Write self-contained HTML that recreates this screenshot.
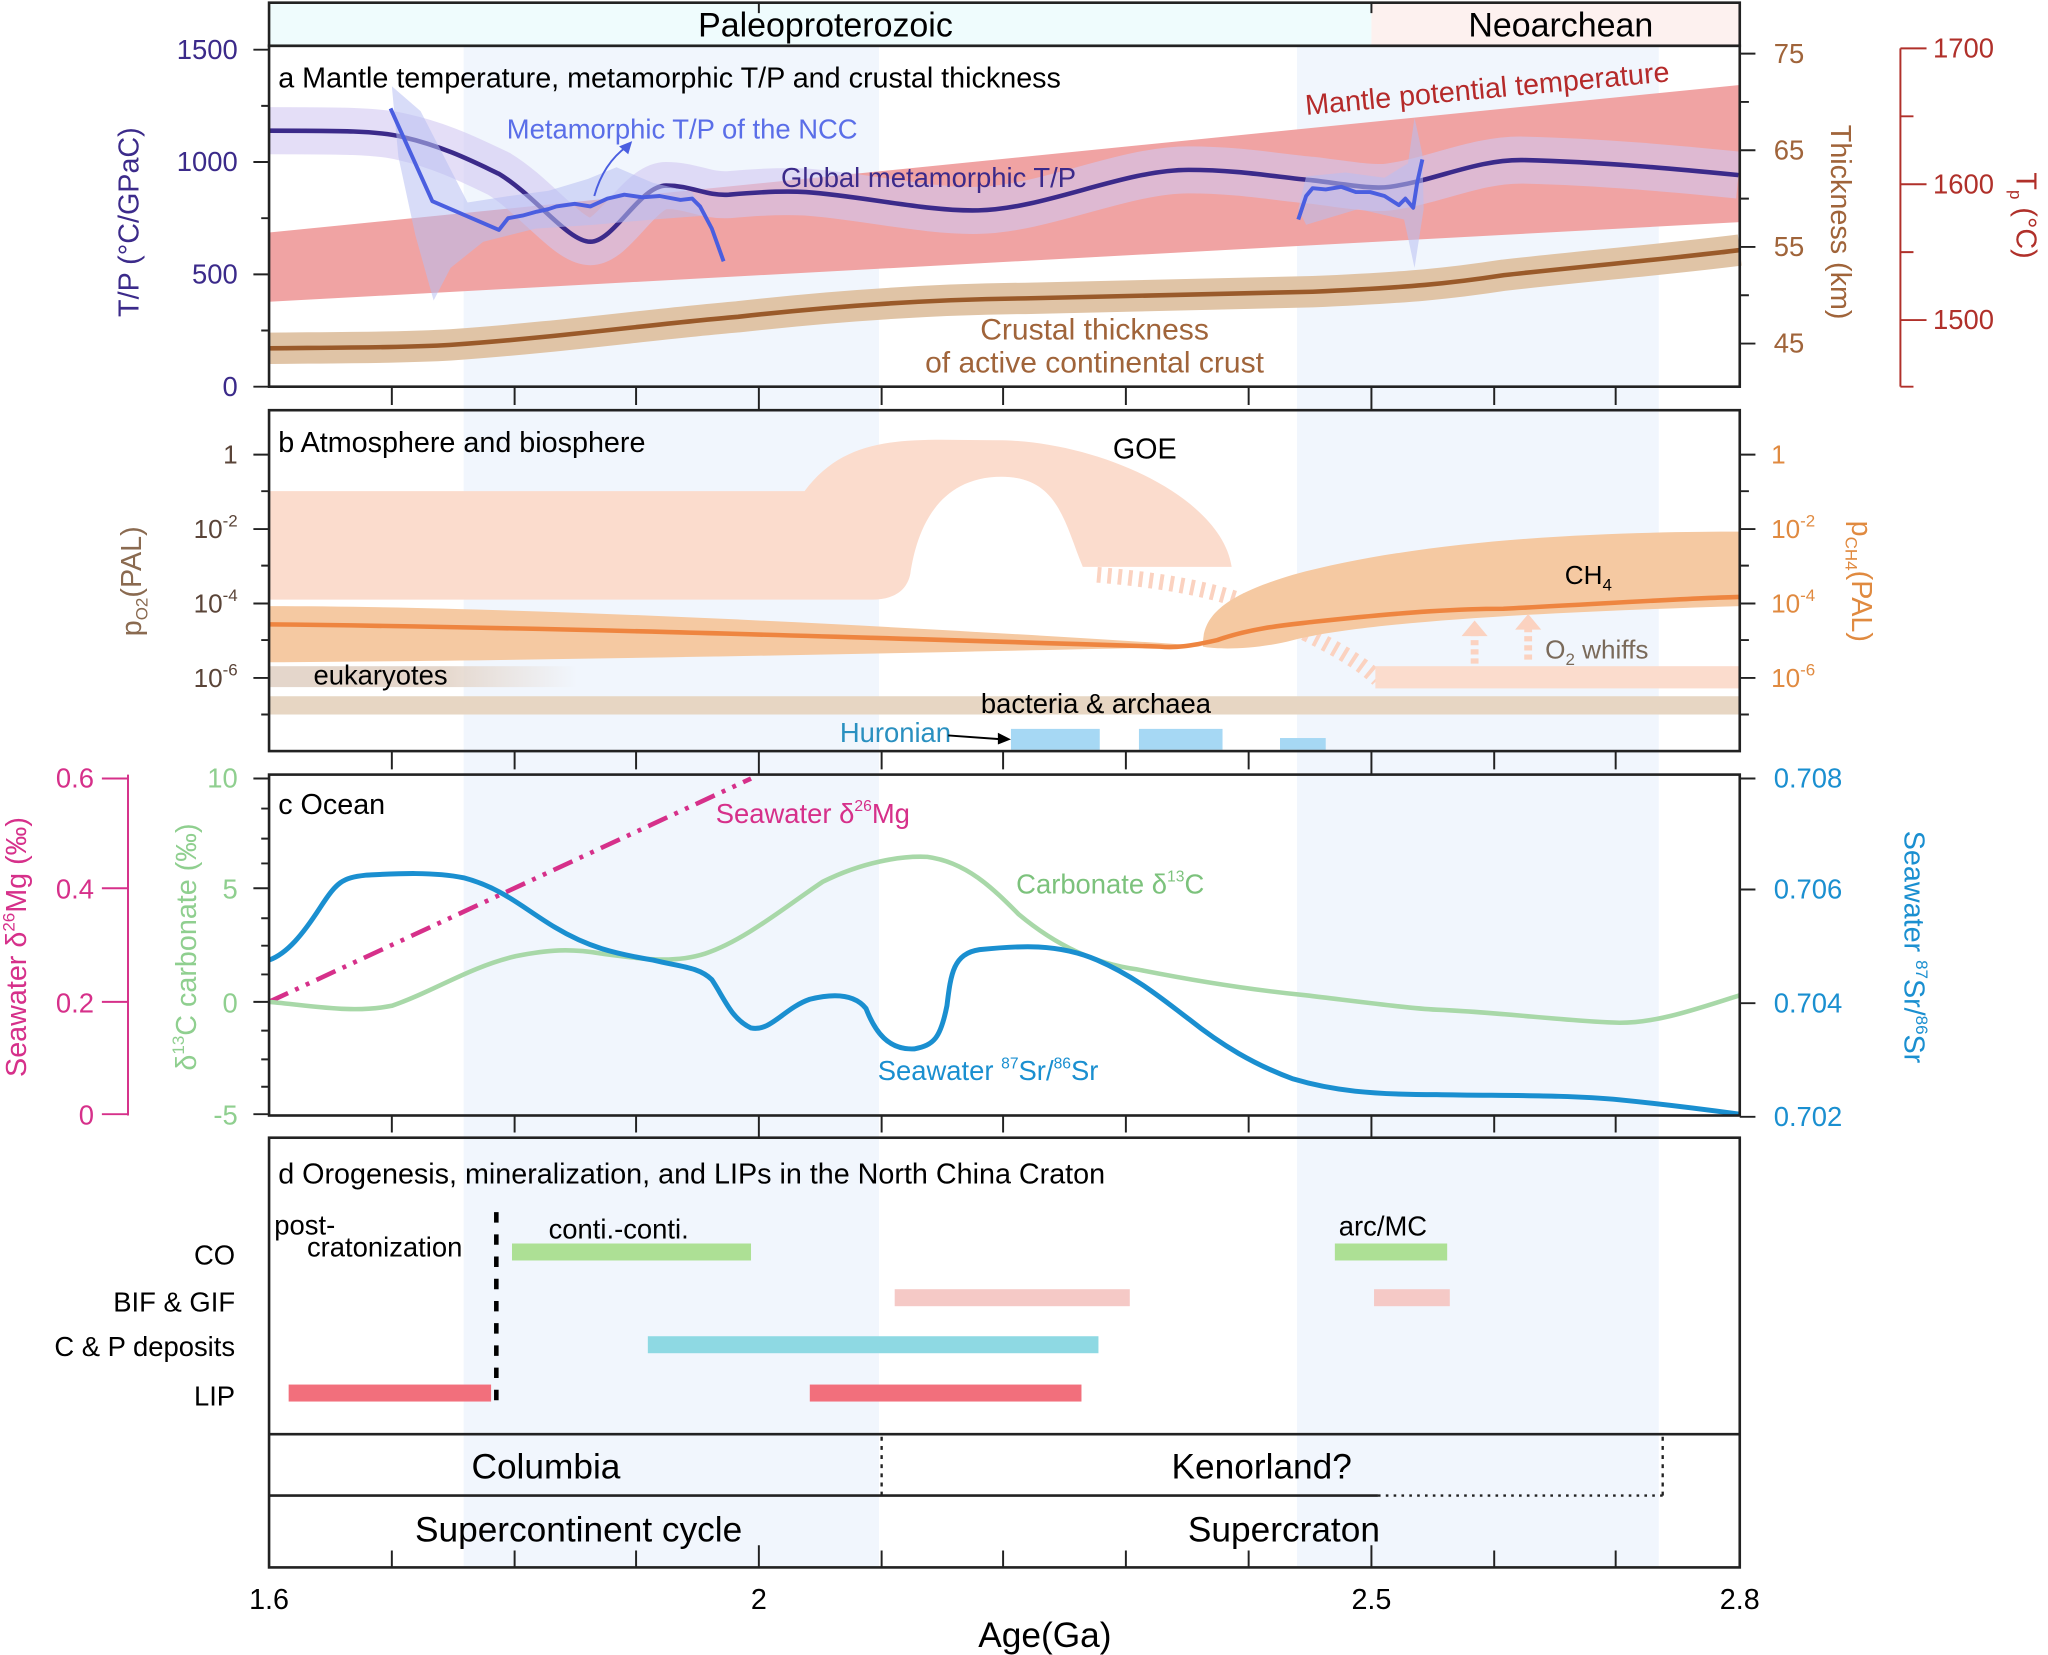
<!DOCTYPE html>
<html><head><meta charset="utf-8"><style>
html,body{margin:0;padding:0;background:#fff}
svg{display:block}
text{font-family:"Liberation Sans Narrow","Liberation Sans",sans-serif}
</style></head><body>
<svg width="2048" height="1655" viewBox="0 0 1568 1267" xmlns="http://www.w3.org/2000/svg">
<rect width="1568" height="1267" fill="#fff"/>
<!-- header -->
<rect x="206" y="2" width="844" height="33" fill="#effcfd"/>
<rect x="1050" y="2" width="282" height="33" fill="#fdf1ef"/>
<!-- blue shaded bands -->
<rect x="355" y="35" width="318" height="1165" fill="#f1f6fd"/>
<rect x="993" y="35" width="277" height="1165" fill="#f1f6fd"/>
<text x="632" y="28" font-size="26" text-anchor="middle">Paleoproterozoic</text>
<text x="1195" y="28" font-size="26" text-anchor="middle">Neoarchean</text>

<!-- ===== Panel a ===== -->
<polygon points="206,178 1332,65 1332,170 206,231" fill="#f0a3a3"/>
<path d="M206,266.6 C270,266 310,266 345,264 C430,258 500,248 565,242.5 C650,233 720,229 785,228.4 C880,226 950,225 1005,223.3 C1080,220 1110,217 1151.6,210.6 C1220,203 1280,198 1332,191.4" fill="none" stroke="#e0c4a6" stroke-width="24"/>
<path d="M206,266.6 C270,266 310,266 345,264 C430,258 500,248 565,242.5 C650,233 720,229 785,228.4 C880,226 950,225 1005,223.3 C1080,220 1110,217 1151.6,210.6 C1220,203 1280,198 1332,191.4" fill="none" stroke="#9a5a2a" stroke-width="3.5"/>
<path d="M206,100 C260,100 290,100 309,105 C340,112 365,125 382,133 C410,150 435,185 452,185 C470,185 490,142 510,142 C530,142 540,150 558,149 C580,147 600,146 617,147 C660,150 710,162 749,161 C800,160 860,130 910,130 C950,130 980,136 1005,138 C1030,141 1050,145 1064,143 C1100,138 1130,122 1166,122.5 C1230,124 1290,130 1331,134" fill="none" stroke="#d2c8f2" stroke-opacity="0.6" stroke-width="36" stroke-linejoin="round"/>
<path d="M206,100 C260,100 290,100 309,105 C340,112 365,125 382,133 C410,150 435,185 452,185 C470,185 490,142 510,142 C530,142 540,150 558,149 C580,147 600,146 617,147 C660,150 710,162 749,161 C800,160 860,130 910,130 C950,130 980,136 1005,138 C1030,141 1050,145 1064,143 C1100,138 1130,122 1166,122.5 C1230,124 1290,130 1331,134" fill="none" stroke="#3b2a8a" stroke-width="3.5"/>
<polygon points="300,66 322,85 340,120 358,155 390,150 420,146 450,137 472,128 500,140 530,147 556,200 540,165 500,168 455,172 410,175 370,185 345,205 332,230 318,180 305,120" fill="#b8bff2" fill-opacity="0.55"/>
<polygon points="994,160 1000,135 1030,132 1060,136 1078,125 1083,90 1089,118 1090,160 1083,205 1075,168 1040,160 1000,172" fill="#b8bff2" fill-opacity="0.55"/>
<polyline points="299,83 331,154 382,176 389,167 400,165 411,162 420,160 426,158 440,156 452,158 465,152 478,149 492,151 505,150 521,153 530,152 536,158 545,175 554,200" fill="none" stroke="#4a5ee0" stroke-width="3" stroke-linejoin="round"/>
<polyline points="994,168 1000,150 1005,144 1015,145 1027,143 1038,147 1049,147 1060,150 1071,157 1076,152 1082,159 1085,140 1089,122" fill="none" stroke="#4a5ee0" stroke-width="3" stroke-linejoin="round"/>
<path d="M455,150 Q462,125 480,112" fill="none" stroke="#4a5ee0" stroke-width="1.5"/>
<polygon points="484,108 474,112 481,118" fill="#4a5ee0"/>
<text x="213" y="67" font-size="22">a  Mantle temperature, metamorphic T/P and crustal thickness</text>
<text x="388" y="106" font-size="21" fill="#5a6ee8">Metamorphic T/P of the NCC</text>
<text x="598" y="143" font-size="21" fill="#3b2a8a">Global metamorphic T/P</text>
<text x="1000" y="88" font-size="22" fill="#b52a2a" transform="rotate(-5.3 1000 88)">Mantle potential temperature</text>
<text x="838" y="260" font-size="23" fill="#a0643a" text-anchor="middle">Crustal thickness</text>
<text x="838" y="285" font-size="23" fill="#a0643a" text-anchor="middle">of active continental crust</text>

<!-- ===== Panel b ===== -->
<path d="M206,376 L616,376 C650,330 700,337 763,337 C840,337 935,380 943,434 L829,434 C815,400 810,365 767,365 C710,365 700,420 697,439 C694,455 680,459 668,459 L206,459 Z" fill="#fbdccd"/>
<path d="M840,440 C900,445 960,455 1000,485 C1030,500 1045,510 1055,520" fill="none" stroke="#fbd2c0" stroke-width="12" stroke-dasharray="3 5"/>
<path d="M206,464 C400,464 700,480 900,493 L920,495 C700,500 400,506 206,507 Z" fill="#f5c9a2"/>
<path d="M921,493 C921,470 940,455 990,440 C1100,410 1250,407 1332,407 L1332,464 C1200,468 1050,475 990,490 C960,498 930,497 921,495 Z" fill="#f5c9a2"/>
<path d="M206,478 C400,480 600,486 888,495 C900,496 910,495 932,490 C960,480 990,478 1006,476 C1080,468 1120,466 1151,466 C1230,462 1290,458 1332,457" fill="none" stroke="#ee8540" stroke-width="3.5"/>
<defs><linearGradient id="eu" x1="0" x2="1"><stop offset="0" stop-color="#e4d6cb"/><stop offset="0.55" stop-color="#e4d6cb"/><stop offset="1" stop-color="#e4d6cb" stop-opacity="0"/></linearGradient></defs>
<rect x="206" y="510" width="236" height="16" fill="url(#eu)"/>
<rect x="206" y="533" width="1126" height="14" fill="#e7d6c3"/>
<rect x="1053" y="510" width="279" height="17" fill="#fbdccd"/>
<line x1="1129" y1="508" x2="1129" y2="485" stroke="#fbd2c0" stroke-width="6" stroke-dasharray="4 3"/>
<polygon points="1119,487 1139,487 1129,475" fill="#fbd2c0"/>
<line x1="1170" y1="505" x2="1170" y2="480" stroke="#fbd2c0" stroke-width="6" stroke-dasharray="4 3"/>
<polygon points="1160,482 1180,482 1170,470" fill="#fbd2c0"/>
<rect x="774" y="558" width="68" height="16" fill="#a6d8f4"/>
<rect x="872" y="558" width="64" height="16" fill="#a6d8f4"/>
<rect x="980" y="565" width="35" height="9" fill="#a6d8f4"/>
<text x="213" y="346" font-size="22">b  Atmosphere and biosphere</text>
<text x="852" y="351" font-size="22">GOE</text>
<text x="1198" y="447" font-size="20">CH<tspan font-size="13" dy="5">4</tspan></text>
<text x="1183" y="504" font-size="20" fill="#7a6a5a">O<tspan font-size="13" dy="5">2</tspan><tspan dy="-5"> whiffs</tspan></text>
<text x="240" y="524" font-size="21">eukaryotes</text>
<text x="751" y="546" font-size="21">bacteria &amp; archaea</text>
<text x="643" y="568" font-size="21" fill="#2a90c0">Huronian</text>
<line x1="726" y1="563" x2="768" y2="566" stroke="#000" stroke-width="1.5"/>
<polygon points="774,566 764,561 764,570" fill="#000"/>

<!-- ===== Panel c ===== -->
<line x1="206" y1="767" x2="575" y2="596" stroke="#d6308a" stroke-width="3.5" stroke-dasharray="16 6 3 6 3 6"/>
<path d="M206,767 C240,770 270,776 300,770 C330,760 360,740 395,732 C420,727 437,726 460,730 C490,734 515,738 540,730 C570,720 600,695 630,675 C660,660 690,655 710,656 C740,660 760,680 780,700 C810,725 840,738 870,742 C920,752 960,758 1000,762 C1050,768 1080,772 1100,773 C1150,775 1200,782 1240,783 C1270,783 1300,772 1332,762" fill="none" stroke="#a8d8a8" stroke-width="3.5"/>
<path d="M206,735 C220,730 232,715 245,695 C258,675 262,672 280,670 C300,669 330,667 355,672 C385,680 400,695 425,710 C450,725 470,730 500,735 C520,740 535,740 545,750 C555,765 560,780 575,787 C590,790 600,772 620,765 C640,760 655,762 663,772 C670,790 680,804 700,803 C715,800 720,795 725,770 C728,745 730,730 750,727 C780,724 810,722 840,735 C870,748 890,765 910,780 C935,800 960,815 990,826 C1020,835 1050,838 1100,838 C1150,839 1200,838 1240,842 C1280,846 1310,850 1332,853" fill="none" stroke="#1a8fd0" stroke-width="3.8"/>
<text x="213" y="623" font-size="22">c  Ocean</text>
<text x="548" y="630" font-size="21" fill="#d6308a">Seawater δ<tspan font-size="12" dy="-9">26</tspan><tspan dy="9">Mg</tspan></text>
<text x="778" y="684" font-size="21" fill="#7cc27c">Carbonate δ<tspan font-size="12" dy="-9">13</tspan><tspan dy="9">C</tspan></text>
<text x="672" y="827" font-size="21" fill="#1a8fd0">Seawater <tspan font-size="12" dy="-9">87</tspan><tspan dy="9">Sr/</tspan><tspan font-size="12" dy="-9">86</tspan><tspan dy="9">Sr</tspan></text>

<!-- ===== Panel d ===== -->
<text x="213" y="906" font-size="22">d  Orogenesis, mineralization, and LIPs in the North China Craton</text>
<g font-size="21" text-anchor="end">
<text x="180" y="968">CO</text><text x="180" y="1004">BIF &amp; GIF</text><text x="180" y="1038">C &amp; P deposits</text><text x="180" y="1076">LIP</text>
</g>
<rect x="392" y="952" width="183" height="13" fill="#ade095"/>
<rect x="1022" y="952" width="86" height="13" fill="#ade095"/>
<rect x="685" y="987" width="180" height="13" fill="#f5c9c6"/>
<rect x="1052" y="987" width="58" height="13" fill="#f5c9c6"/>
<rect x="496" y="1023" width="345" height="13" fill="#8ed9e3"/>
<rect x="221" y="1060" width="155" height="13" fill="#f26f7c"/>
<rect x="620" y="1060" width="208" height="13" fill="#f26f7c"/>
<line x1="380" y1="928" x2="380" y2="1075" stroke="#000" stroke-width="3.5" stroke-dasharray="8 9"/>
<text x="210" y="945" font-size="21">post-</text>
<text x="235" y="962" font-size="21">cratonization</text>
<text x="420" y="948" font-size="21">conti.-conti.</text>
<text x="1025" y="946" font-size="21">arc/MC</text>

<line x1="206" y1="1098" x2="1332" y2="1098" stroke="#222" stroke-width="2"/>
<line x1="206" y1="1145" x2="1055" y2="1145" stroke="#222" stroke-width="2"/>
<line x1="1055" y1="1145" x2="1273" y2="1145" stroke="#222" stroke-width="1.8" stroke-dasharray="2 4"/>
<line x1="675" y1="1100" x2="675" y2="1145" stroke="#222" stroke-width="1.8" stroke-dasharray="3 4"/>
<line x1="1273" y1="1100" x2="1273" y2="1145" stroke="#222" stroke-width="1.8" stroke-dasharray="3 4"/>
<text x="418" y="1132" font-size="27" text-anchor="middle">Columbia</text>
<text x="966" y="1132" font-size="27" text-anchor="middle">Kenorland?</text>
<text x="443" y="1180" font-size="27" text-anchor="middle">Supercontinent cycle</text>
<text x="983" y="1180" font-size="27" text-anchor="middle">Supercraton</text>

<g fill="none" stroke="#222" stroke-width="2">
<rect x="206" y="2" width="1126" height="33"/>
<rect x="206" y="35" width="1126" height="261"/>
<rect x="206" y="314" width="1126" height="261"/>
<rect x="206" y="593" width="1126" height="261"/>
<rect x="206" y="871" width="1126" height="329"/>
</g>
<g stroke="#222" stroke-width="1.5">
<path d="M300,296v14 M394,296v14 M487,296v14 M581,296v18 M675,296v14 M768,296v14 M862,296v14 M956,296v14 M1050,296v18 M1144,296v14 M1237,296v14"/>
<path d="M300,575v14 M394,575v14 M487,575v14 M581,575v18 M675,575v14 M768,575v14 M862,575v14 M956,575v14 M1050,575v18 M1144,575v14 M1237,575v14"/>
<path d="M300,854v13 M394,854v13 M487,854v13 M581,854v17 M675,854v13 M768,854v13 M862,854v13 M956,854v13 M1050,854v17 M1144,854v13 M1237,854v13"/>
<path d="M300,1200v-13 M394,1200v-13 M487,1200v-13 M581,1200v-17 M675,1200v-13 M768,1200v-13 M862,1200v-13 M956,1200v-13 M1050,1200v-17 M1144,1200v-13 M1237,1200v-13"/>
<path d="M581,2v8 M1050,2v8"/>
<path d="M194,38h12 M194,124h12 M194,210h12 M194,296h12 M200,81h6 M200,167h6 M200,253h6"/>
<path d="M1332,41h12 M1332,115h12 M1332,189h12 M1332,263h12 M1332,78h7 M1332,152h7 M1332,226h7"/>
<path d="M194,348h12 M194,405h12 M194,462h12 M194,519h12 M200,376h6 M200,433h6 M200,490h6 M200,547h6"/>
<path d="M1332,348h12 M1332,405h12 M1332,462h12 M1332,519h12 M1332,376h7 M1332,433h7 M1332,490h7 M1332,547h7"/>
<path d="M194,596h12 M194,680h12 M194,767h12 M194,853h12 M200,619h6 M200,642h6 M200,661h6 M200,703h6 M200,724h6 M200,746h6 M200,789h6 M200,811h6 M200,832h6"/>
<path d="M1332,596h12 M1332,681h12 M1332,768h12 M1332,855h12"/>
</g>
<g stroke="#b0302a" stroke-width="1.5" fill="none">
<path d="M1455,37V296 M1455,37h20 M1455,141h20 M1455,245h20 M1455,89h10 M1455,193h10 M1455,296h10"/>
</g>
<g stroke="#d6308a" stroke-width="1.5" fill="none">
<path d="M98,593V854 M78,596h20 M78,680h20 M78,767h20 M78,853h20"/>
</g>
<g font-size="21" fill="#3b2a8a" text-anchor="end">
<text x="182" y="45">1500</text><text x="182" y="131">1000</text><text x="182" y="217">500</text><text x="182" y="303">0</text>
</g>
<text transform="translate(106,170) rotate(-90)" font-size="22" fill="#3b2a8a" text-anchor="middle">T/P (°C/GPaC)</text>
<g font-size="21" fill="#a0643a">
<text x="1358" y="48">75</text><text x="1358" y="122">65</text><text x="1358" y="196">55</text><text x="1358" y="270">45</text>
</g>
<text transform="translate(1402,170) rotate(90)" font-size="22" fill="#a0643a" text-anchor="middle">Thickness (km)</text>
<g font-size="21" fill="#b0302a">
<text x="1480" y="44">1700</text><text x="1480" y="148">1600</text><text x="1480" y="252">1500</text>
</g>
<text transform="translate(1544,165) rotate(90)" font-size="22" fill="#b0302a" text-anchor="middle">T<tspan font-size="13" dy="5">p</tspan><tspan dy="-5"> (°C)</tspan></text>
<g font-size="20" fill="#5a4438" text-anchor="end">
<text x="182" y="355">1</text>
<text x="182" y="412">10<tspan font-size="13" dy="-9">-2</tspan></text>
<text x="182" y="469">10<tspan font-size="13" dy="-9">-4</tspan></text>
<text x="182" y="526">10<tspan font-size="13" dy="-9">-6</tspan></text>
</g>
<text transform="translate(108,445) rotate(-90)" font-size="22" fill="#8a6a50" text-anchor="middle">p<tspan font-size="13" dy="5">O2</tspan><tspan dy="-5">(PAL)</tspan></text>
<g font-size="20" fill="#e08a40">
<text x="1356" y="355">1</text>
<text x="1356" y="412">10<tspan font-size="13" dy="-9">-2</tspan></text>
<text x="1356" y="469">10<tspan font-size="13" dy="-9">-4</tspan></text>
<text x="1356" y="526">10<tspan font-size="13" dy="-9">-6</tspan></text>
</g>
<text transform="translate(1418,445) rotate(90)" font-size="22" fill="#e08a40" text-anchor="middle">p<tspan font-size="13" dy="5">CH4</tspan><tspan dy="-5">(PAL)</tspan></text>
<g font-size="21" fill="#8fcf8f" text-anchor="end">
<text x="182" y="603">10</text><text x="182" y="688">5</text><text x="182" y="775">0</text><text x="182" y="861">-5</text>
</g>
<text transform="translate(150,725) rotate(-90)" font-size="22" fill="#8fcf8f" text-anchor="middle">δ<tspan font-size="13" dy="-9">13</tspan><tspan dy="9">C carbonate (‰)</tspan></text>
<g font-size="21" fill="#d6308a" text-anchor="end">
<text x="72" y="603">0.6</text><text x="72" y="688">0.4</text><text x="72" y="775">0.2</text><text x="72" y="861">0</text>
</g>
<text transform="translate(20,725) rotate(-90)" font-size="22" fill="#d6308a" text-anchor="middle">Seawater δ<tspan font-size="13" dy="-9">26</tspan><tspan dy="9">Mg (‰)</tspan></text>
<g font-size="21" fill="#1a8fd0">
<text x="1358" y="603">0.708</text><text x="1358" y="688">0.706</text><text x="1358" y="775">0.704</text><text x="1358" y="862">0.702</text>
</g>
<text transform="translate(1458,725) rotate(90)" font-size="22" fill="#1a8fd0" text-anchor="middle">Seawater <tspan font-size="13" dy="-9">87</tspan><tspan dy="9">Sr/</tspan><tspan font-size="13" dy="-9">86</tspan><tspan dy="9">Sr</tspan></text>
<g font-size="22" text-anchor="middle">
<text x="206" y="1232">1.6</text><text x="581" y="1232">2</text><text x="1050" y="1232">2.5</text><text x="1332" y="1232">2.8</text>
</g>
<text x="800" y="1261" font-size="27" text-anchor="middle">Age(Ga)</text>
</svg>
</body></html>
